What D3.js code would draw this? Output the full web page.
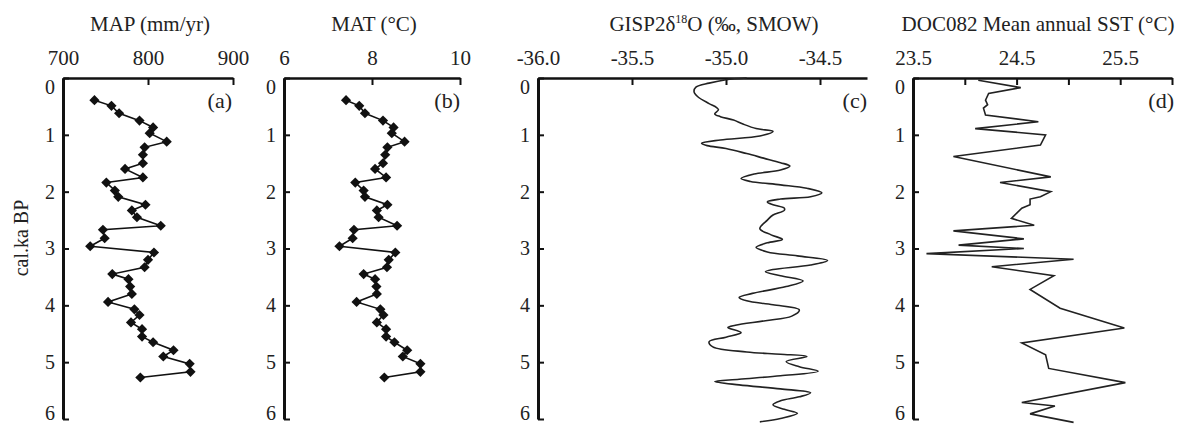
<!DOCTYPE html>
<html>
<head>
<meta charset="utf-8">
<script src="https://cdn.jsdelivr.net/npm/d3@7"></script>
<style>
  html, body { margin: 0; padding: 0; background: #fff; }
  svg { display: block; }
  svg text { font-family: "Liberation Serif", "Times New Roman", "DejaVu Serif", serif !important; fill: #222; }
</style>
</head>
<body>
<svg id="chart" width="1178" height="424"></svg>
<script>
// ---------- data ----------
// shared sample ages (cal. ka BP) for panels (a) and (b)
const pollenAges = [0.39,0.49,0.62,0.75,0.87,0.97,1.12,1.22,1.35,1.50,1.60,1.75,1.84,1.98,2.09,2.23,2.33,2.45,2.60,2.67,2.82,2.96,3.07,3.20,3.33,3.45,3.54,3.67,3.80,3.94,4.07,4.17,4.30,4.42,4.55,4.65,4.79,4.90,5.03,5.17,5.27];
const mapValues = [737,757,766,790,806,802,822,796,794,794,773,794,751,761,765,797,781,787,815,747,749,732,807,800,796,758,777,779,781,753,784,790,780,793,793,806,830,818,849,850,791];
const matValues = [7.41,7.71,7.84,8.25,8.49,8.45,8.74,8.35,8.30,8.25,8.07,8.32,7.62,7.81,7.84,8.35,8.11,8.15,8.57,7.59,7.56,7.26,8.53,8.38,8.34,7.81,8.07,8.10,8.11,7.65,8.19,8.26,8.11,8.32,8.32,8.51,8.80,8.70,9.10,9.10,8.28];

const gispAges = [0.00,0.03,0.09,0.16,0.24,0.33,0.45,0.52,0.56,0.63,0.68,0.74,0.81,0.89,0.94,1.02,1.09,1.15,1.19,1.24,1.33,1.41,1.49,1.55,1.62,1.69,1.77,1.82,1.88,1.94,2.02,2.09,2.13,2.18,2.23,2.29,2.33,2.41,2.50,2.65,2.76,2.84,2.90,2.98,3.06,3.13,3.21,3.29,3.37,3.41,3.48,3.57,3.67,3.79,3.86,3.92,3.99,4.08,4.19,4.27,4.35,4.39,4.48,4.56,4.64,4.73,4.82,4.86,4.90,4.99,5.08,5.16,5.24,5.30,5.34,5.40,5.47,5.54,5.61,5.68,5.75,5.83,5.90,5.99,6.05];
const gispValues = [-34.89,-35.00,-35.09,-35.16,-35.17,-35.15,-35.09,-35.05,-35.04,-35.06,-35.03,-34.96,-34.91,-34.84,-34.75,-34.82,-35.03,-35.13,-35.10,-35.00,-34.89,-34.80,-34.71,-34.66,-34.71,-34.85,-34.92,-34.87,-34.71,-34.57,-34.49,-34.55,-34.71,-34.78,-34.75,-34.69,-34.69,-34.75,-34.78,-34.82,-34.76,-34.70,-34.78,-34.84,-34.78,-34.62,-34.46,-34.55,-34.75,-34.79,-34.71,-34.59,-34.68,-34.86,-34.93,-34.89,-34.75,-34.61,-34.65,-34.79,-34.95,-34.99,-34.92,-35.00,-35.09,-35.07,-34.89,-34.71,-34.57,-34.68,-34.61,-34.51,-34.71,-34.93,-35.06,-34.93,-34.71,-34.55,-34.61,-34.71,-34.75,-34.69,-34.62,-34.71,-34.82];

const sstAges = [0.04,0.17,0.27,0.39,0.47,0.53,0.65,0.77,0.89,1.00,1.18,1.38,1.74,1.84,2.00,2.09,2.13,2.23,2.29,2.47,2.59,2.69,2.83,2.94,3.00,3.09,3.19,3.32,3.48,3.72,4.05,4.40,4.66,4.87,5.11,5.36,5.71,5.77,5.91,6.06];
const sstValues = [24.13,24.54,24.23,24.20,24.22,24.18,24.20,24.71,24.10,24.78,24.73,23.89,24.83,24.34,24.83,24.73,24.63,24.63,24.55,24.45,24.67,23.89,24.57,23.94,24.57,23.63,25.05,24.26,24.86,24.63,24.92,25.54,24.55,24.78,24.81,25.55,24.55,24.87,24.63,25.05];

// axis ticks / labels
const ageTicks = [0,1,2,3,4,5,6];
const mapTicks = [700,800,900];
const matTicks = [6,8,10];
const gispTicks = [-36.0,-35.5,-35.0,-34.5];
const sstTicks = [23.5,24.0,24.5,25.0,25.5,26.0];
const sstLabelled = [23.5,24.5,25.5];
const panelLetters = ["(a)","(b)","(c)","(d)"];
const yTitle = "cal.ka BP";

// ---------- layout ----------
const svg = d3.select("#chart");
const yTop = 78, yBot = 419;
const y = d3.scaleLinear().domain([0,6]).range([yTop, yBot]);

const panels = [
  {title:"MAP (mm/yr)", cx:150, x: d3.scaleLinear().domain([700,900]).range([63,233]), ticks:mapTicks, fmt:d=>String(d), letter:panelLetters[0], lx:232},
  {title:"MAT (°C)", cx:374, x: d3.scaleLinear().domain([6,10]).range([284,460]), ticks:matTicks, fmt:d=>String(d), letter:panelLetters[1], lx:460},
  {title:null, cx:714, x: d3.scaleLinear().domain([-36,-34.25]).range([538,867]), ticks:gispTicks, fmt:d=>d.toFixed(1), letter:panelLetters[2], lx:867},
  {title:"DOC082 Mean annual SST (°C)", cx:1038, x: d3.scaleLinear().domain([23.5,26.0]).range([913,1172]), ticks:sstTicks, fmt:d=>sstLabelled.includes(d)?d.toFixed(1):"", letter:panelLetters[3], lx:1174}
];

panels.forEach((p,i)=>{
  const g = svg.append("g");
  // top axis
  const ax = g.append("g").attr("transform",`translate(0,${yTop})`)
    .call(d3.axisTop(p.x).tickValues(p.ticks).tickFormat(p.fmt).tickSizeInner(-7).tickSizeOuter(0).tickPadding(13));
  ax.attr("font-family",null);
  ax.select(".domain").attr("stroke","#111").attr("stroke-width",2.5);
  ax.selectAll(".tick line").attr("stroke","#111").attr("stroke-width",2);
  ax.selectAll(".tick text").attr("font-size",21).attr("fill","#222");
  // left axis
  const ay = g.append("g").attr("transform",`translate(${p.x.range()[0]},0)`)
    .call(d3.axisLeft(y).tickValues(ageTicks).tickFormat(d3.format("d")).tickSizeInner(-6).tickSizeOuter(0).tickPadding(8));
  ay.attr("font-family",null);
  ay.select(".domain").attr("stroke","#111").attr("stroke-width",3);
  ay.selectAll(".tick line").attr("stroke","#111").attr("stroke-width",2);
  ay.selectAll(".tick text").attr("font-size",20).attr("fill","#222")
    .attr("dy", d => d === 0 ? "0.75em" : (d === 6 ? "0em" : "0.32em"));
  // title
  if (p.title) {
    g.append("text").attr("x",p.cx).attr("y",31).attr("text-anchor","middle").attr("font-size",21).text(p.title);
  } else {
    const t = g.append("text").attr("x",p.cx).attr("y",31).attr("text-anchor","middle").attr("font-size",21);
    t.append("tspan").text("GISP2δ");
    t.append("tspan").attr("font-size",12).attr("dy",-8).text("18");
    t.append("tspan").attr("dy",8).text("O (‰, SMOW)");
  }
  // letter
  g.append("text").attr("x",p.lx).attr("y",108).attr("text-anchor","end").attr("font-size",22).text(p.letter);
});

// y-axis title
svg.append("text").attr("transform","translate(28,238) rotate(-90)").attr("text-anchor","middle")
  .attr("font-size",20).text(yTitle);

// ---------- series ----------
const diamond = d3.symbol().type(d3.symbolSquare).size(52);

function markerSeries(p, vals) {
  const data = pollenAges.map((a,i)=>({a, v: vals[i]}));
  const line = d3.line().x(d=>p.x(d.v)).y(d=>y(d.a));
  svg.append("path").datum(data).attr("d",line).attr("fill","none").attr("stroke","#111").attr("stroke-width",1.6);
  svg.append("g").selectAll("path").data(data).join("path")
    .attr("d",diamond).attr("fill","#111")
    .attr("transform",d=>`translate(${p.x(d.v)},${y(d.a)}) rotate(45)`);
}
markerSeries(panels[0], mapValues);
markerSeries(panels[1], matValues);

// GISP2 smooth curve
const gispData = gispAges.map((a,i)=>({a, v: gispValues[i]}));
svg.append("path").datum(gispData)
  .attr("d", d3.line().x(d=>panels[2].x(d.v)).y(d=>y(d.a)).curve(d3.curveCatmullRom.alpha(0.5)))
  .attr("fill","none").attr("stroke","#222").attr("stroke-width",1.6);

// SST polyline
const sstData = sstAges.map((a,i)=>({a, v: sstValues[i]}));
svg.append("path").datum(sstData)
  .attr("d", d3.line().x(d=>panels[3].x(d.v)).y(d=>y(d.a)))
  .attr("fill","none").attr("stroke","#222").attr("stroke-width",1.6);
</script>
</body>
</html>
